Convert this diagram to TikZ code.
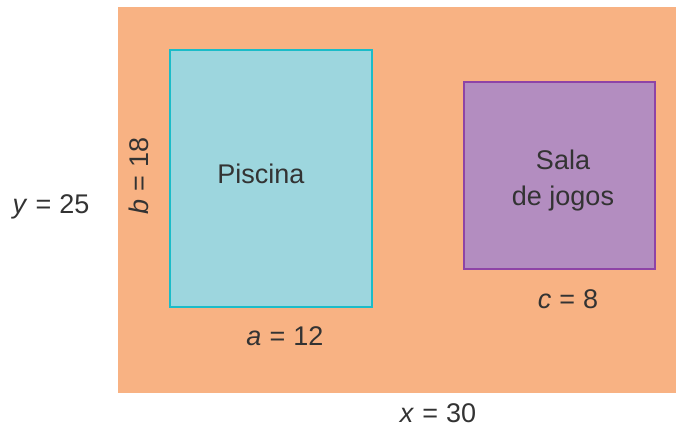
\documentclass[tikz,border=0pt]{standalone}
\usepackage{fontspec}
\setmainfont{Liberation Sans}
\definecolor{bgorange}{HTML}{F8B283}
\definecolor{poolfill}{HTML}{9DD6DE}
\definecolor{pooldraw}{HTML}{1BBCC8}
\definecolor{gamefill}{HTML}{B38DC0}
\definecolor{gamedraw}{HTML}{8E44A6}
\definecolor{txt}{HTML}{333333}
\newcommand{\myeq}{\hspace{0.3em}=\hspace{0.3em}}
\begin{document}
\begin{tikzpicture}[x=1pt,y=-1pt,
  lbl/.style={text=txt,font=\fontsize{27}{36}\selectfont,inner sep=0pt},
  room/.style={line width=1.6pt}]
\useasboundingbox (0,0) rectangle (676,427);
\fill[bgorange] (118,7) rectangle (676,393);
\draw[room,fill=poolfill,draw=pooldraw] (170,50) rectangle (372,307);
\draw[room,fill=gamefill,draw=gamedraw] (464,82) rectangle (655,269);
\node[lbl] (pool) at (261,174) {Piscina};
\node[lbl,align=center] (game) at (563,181) {Sala\\de jogos};
\node[lbl] (ylab) at (51,207) {\textit{y}\myeq 25};
\node[lbl,rotate=90] (blab) at (139,176) {\textit{b}\myeq 18};
\node[lbl] (alab) at (285,336) {\textit{a}\myeq 12};
\node[lbl] (clab) at (568,299) {\textit{c}\myeq 8};
\node[lbl] (xlab) at (438,413) {\textit{x}\myeq 30};
\end{tikzpicture}
\end{document}
